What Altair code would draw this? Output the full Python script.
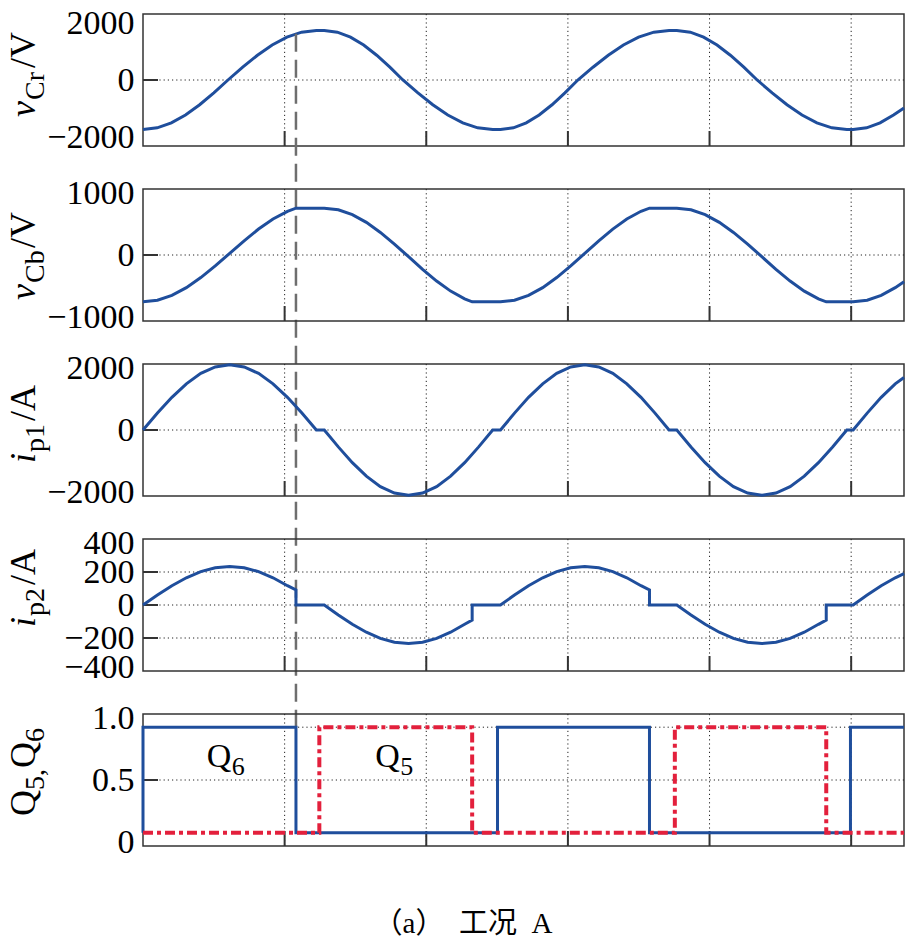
import altair as alt
import pandas as pd

# ---------------- data ----------------
# time axis expressed in grid units (one unit = spacing of the vertical gridlines)
T_MAX = 5.373
X_GRID = [1, 2, 3, 4, 5]

# v_Cr / V
VCR_T = [0, 0.1, 0.2, 0.3, 0.4, 0.5, 0.6, 0.704, 0.808, 0.912, 1.016, 1.120, 1.224,
         1.28, 1.372, 1.465, 1.558, 1.650, 1.743, 1.835, 1.941, 2.046, 2.152, 2.258, 2.363, 2.469,
         2.524, 2.615, 2.706, 2.797, 2.888, 2.979, 3.070, 3.177, 3.285, 3.392, 3.499, 3.607, 3.714,
         3.769, 3.864, 3.958, 4.053, 4.147, 4.242, 4.336, 4.442, 4.547, 4.653, 4.758, 4.864, 4.969,
         5.014, 5.109, 5.204, 5.299, 5.373]
VCR_V = [-1500, -1449, -1299, -1061, -750, -388, 0, 388, 750, 1061, 1299, 1449, 1500,
         1500, 1449, 1299, 1061, 750, 388, 0, -388, -750, -1061, -1299, -1449, -1500,
         -1500, -1449, -1299, -1061, -750, -388, 0, 388, 750, 1061, 1299, 1449, 1500,
         1500, 1449, 1299, 1061, 750, 388, 0, -388, -750, -1061, -1299, -1449, -1500,
         -1500, -1449, -1299, -1061, -850]

# v_Cb / V
VCB_T = [0, 0.102, 0.204, 0.306, 0.408, 0.510, 0.612, 0.714, 0.816, 0.918, 1.020, 1.08,
         1.28, 1.379, 1.478, 1.577, 1.676, 1.775, 1.875, 1.974, 2.073, 2.172, 2.271, 2.324,
         2.524, 2.623, 2.722, 2.822, 2.921, 3.020, 3.119, 3.218, 3.317, 3.416, 3.516, 3.576,
         3.769, 3.869, 3.969, 4.069, 4.169, 4.269, 4.369, 4.469, 4.569, 4.669, 4.769, 4.824,
         5.014, 5.113, 5.212, 5.311, 5.373]
VCB_V = [-710, -685, -611, -495, -342, -165, 25, 215, 393, 545, 662, 710,
         710, 685, 611, 494, 342, 164, -26, -217, -395, -547, -664, -710,
         -710, -685, -611, -495, -342, -165, 25, 215, 393, 545, 662, 710,
         710, 685, 611, 494, 342, 164, -26, -217, -395, -547, -664, -710,
         -710, -685, -611, -495, -404]

# i_p1 / A
IP1_T = [0, 0.102, 0.204, 0.306, 0.408, 0.510, 0.612, 0.714, 0.816, 0.918, 1.020, 1.122, 1.224,
         1.28, 1.379, 1.478, 1.577, 1.676, 1.775, 1.875, 1.974, 2.073, 2.172, 2.271, 2.370, 2.469,
         2.524, 2.623, 2.722, 2.822, 2.921, 3.020, 3.119, 3.218, 3.317, 3.416, 3.516, 3.615, 3.714,
         3.769, 3.869, 3.969, 4.069, 4.169, 4.269, 4.369, 4.469, 4.569, 4.669, 4.769, 4.869, 4.969,
         5.014, 5.113, 5.212, 5.311, 5.373]
IP1_V = [0, 512, 990, 1400, 1715, 1912, 1980, 1912, 1715, 1400, 990, 512, 0,
         0, -512, -990, -1400, -1715, -1912, -1980, -1912, -1715, -1400, -990, -512, 0,
         0, 512, 990, 1400, 1715, 1912, 1980, 1912, 1715, 1400, 990, 512, 0,
         0, -512, -990, -1400, -1715, -1912, -1980, -1912, -1715, -1400, -990, -512, 0,
         0, 512, 990, 1400, 1590]

# i_p2 / A
IP2_T = [0, 0.102, 0.204, 0.306, 0.408, 0.510, 0.612, 0.714, 0.816, 0.918, 1.020, 1.08, 1.08,
         1.28, 1.379, 1.478, 1.577, 1.676, 1.775, 1.875, 1.974, 2.073, 2.172, 2.271, 2.324, 2.324,
         2.524, 2.623, 2.722, 2.822, 2.921, 3.020, 3.119, 3.218, 3.317, 3.416, 3.516, 3.576, 3.576,
         3.769, 3.869, 3.969, 4.069, 4.169, 4.269, 4.369, 4.469, 4.569, 4.669, 4.769, 4.824, 4.824,
         5.014, 5.113, 5.212, 5.311, 5.373]
IP2_V = [0, 60, 117, 165, 202, 226, 234, 226, 202, 165, 117, 92, 0,
         0, -60, -117, -165, -202, -226, -234, -226, -202, -165, -117, -92, 0,
         0, 60, 117, 165, 202, 226, 234, 226, 202, 165, 117, 92, 0,
         0, -60, -117, -165, -202, -226, -234, -226, -202, -165, -117, -92, 0,
         0, 60, 117, 165, 190]

# gate signals Q6 (solid blue) and Q5 (red dash-dot)
Q6_T = [0, 0, 1.08, 1.08, 2.503, 2.503, 3.576, 3.576, 4.995, 4.995, 5.373]
Q6_V = [0.1, 0.9, 0.9, 0.1, 0.1, 0.9, 0.9, 0.1, 0.1, 0.9, 0.9]
Q5_T = [0, 1.245, 1.245, 2.324, 2.324, 3.755, 3.755, 4.824, 4.824, 5.373]
Q5_V = [0.1, 0.1, 0.9, 0.9, 0.1, 0.1, 0.9, 0.9, 0.1, 0.1]

# dashed marker line (switching instant), starts on the v_Cr curve
VLINE_T = 1.08
VLINE_V = 1400

# in-plot labels of panel 5
QLAB_MAIN = ["Q", "Q"]
QLAB_SUB = ["6", "5"]
QLAB_T = [0.45, 1.64]
QLAB_V = [0.6, 0.6]

CAPTION = "（a）\u2002工况\u2002A"

# ---------------- style / layout ----------------
W, H, GAP = 761, 132, 43
BLUE = "#1f4e9c"
RED = "#e3203c"
SERIF = "Liberation Serif"
TITLE_X = -108
TICK_LEN = 15
MAIN_FS, SUB_FS, SUB_DY = 36, 28, 9

XSCALE = alt.Scale(domain=[0, T_MAX], nice=False, zero=False)


def sdf(t, v):
    return pd.DataFrame({"t": t, "v": v, "i": list(range(len(t)))})


ONE = pd.DataFrame({"a": [0]})


def xenc():
    return alt.X("t:Q", scale=XSCALE, axis=None)


def make_axis(vals, flushoff, fmt=None, expr=None):
    kw = dict(values=vals, title=None, labelFont=SERIF, labelFontSize=34, labelColor="black",
              ticks=False, tickSize=0, domain=False, grid=False, labelPadding=9,
              labelFlush=True, labelFlushOffset=flushoff, labelOverlap=False, labelBound=False)
    if expr is not None:
        kw["labelExpr"] = expr
    else:
        kw["format"] = fmt
    return alt.Axis(**kw)


def panel(series, sc, axis, ygrid, yticks, title_pieces, title_start, extra=None):
    def yenc():
        return alt.Y("v:Q", scale=sc, axis=axis)

    layers = []
    layers.append(alt.Chart(pd.DataFrame({"t": X_GRID})).mark_rule(
        color="#222", strokeWidth=1, strokeDash=[1.2, 3]).encode(x=xenc()))
    layers.append(alt.Chart(pd.DataFrame({"v": ygrid})).mark_rule(
        color="#222", strokeWidth=1, strokeDash=[1.2, 3]).encode(y=yenc()))
    layers.append(alt.Chart(pd.DataFrame({"v": yticks})).mark_rule(
        color="#333", strokeWidth=2).encode(y=yenc(), x=alt.value(0), x2=alt.value(TICK_LEN)))
    layers.append(alt.Chart(pd.DataFrame({"t": X_GRID})).mark_rule(
        color="#333", strokeWidth=2).encode(x=xenc(), y=alt.value(H), y2=alt.value(H - TICK_LEN)))
    for (t, v, props) in series:
        layers.append(alt.Chart(sdf(t, v)).mark_line(**props).encode(
            x=xenc(), y=yenc(), order=alt.Order("i:Q")))
    for (txt, size, style, dx, dy) in title_pieces:
        layers.append(alt.Chart(ONE).mark_text(
            text=txt, angle=270, align="left", baseline="alphabetic", font=SERIF,
            fontSize=size, fontStyle=style, dx=dx, dy=dy, color="black").encode(
            x=alt.value(TITLE_X), y=alt.value(title_start)))
    if extra:
        layers.extend(extra)
    return alt.layer(*layers).properties(width=W, height=H)


blue_line = dict(color=BLUE, strokeWidth=3, interpolate="linear")

SC1 = alt.Scale(domain=[-2000, 2000], nice=False, zero=False)
SC2 = alt.Scale(domain=[-1000, 1000], nice=False, zero=False)
SC3 = alt.Scale(domain=[-2000, 2000], nice=False, zero=False)
SC4 = alt.Scale(domain=[-400, 400], nice=False, zero=False)
SC5 = alt.Scale(domain=[0, 1], nice=False, zero=False)

AX1 = make_axis([-2000, 0, 2000], 8, fmt="d")
AX2 = make_axis([-1000, 0, 1000], 13, fmt="d")
AX3 = make_axis([-2000, 0, 2000], 13, fmt="d")
AX4 = make_axis([-400, -200, 0, 200, 400], 13, fmt="d")
AX5 = make_axis([0, 0.5, 1], 13, expr="datum.value == 0 ? '0' : format(datum.value, '.1f')")

# dashed switching-instant line, drawn from panel 1 down to the 0.9 level of panel 5
vline = alt.Chart(ONE).mark_rule(color="#6e6e6e", strokeWidth=2.5, strokeDash=[18, 8]).encode(
    x=alt.X(datum=VLINE_T, scale=XSCALE, axis=None),
    y=alt.Y(datum=VLINE_V, scale=SC1, axis=AX1),
    y2=alt.value(4 * (H + GAP) + 0.1 * H))

p1 = panel([(VCR_T, VCR_V, blue_line)], SC1, AX1, [0], [0],
           [("v", MAIN_FS, "italic", 0, 0), ("Cr", SUB_FS, "normal", 17, SUB_DY),
            ("/V", MAIN_FS, "normal", 49, 0)],
           103, extra=[vline])
p2 = panel([(VCB_T, VCB_V, blue_line)], SC2, AX2, [0], [0],
           [("v", MAIN_FS, "italic", 0, 0), ("Cb", SUB_FS, "normal", 17, SUB_DY),
            ("/V", MAIN_FS, "normal", 52, 0)],
           111)
p3 = panel([(IP1_T, IP1_V, blue_line)], SC3, AX3, [0], [0],
           [("i", MAIN_FS, "italic", 0, 0), ("p1", SUB_FS, "normal", 11, SUB_DY),
            ("/A", MAIN_FS, "normal", 42, 0)],
           99)
p4 = panel([(IP2_T, IP2_V, blue_line)], SC4, AX4, [-200, 0, 200], [-200, 0, 200],
           [("i", MAIN_FS, "italic", 0, 0), ("p2", SUB_FS, "normal", 11, SUB_DY),
            ("/A", MAIN_FS, "normal", 42, 0)],
           88)

qlabels = []
for m, s, t, v in zip(QLAB_MAIN, QLAB_SUB, QLAB_T, QLAB_V):
    qlabels.append(alt.Chart(ONE).mark_text(text=m, align="left", baseline="alphabetic",
                                            font=SERIF, fontSize=34, color="black").encode(
        x=alt.X(datum=t, scale=XSCALE, axis=None), y=alt.Y(datum=v, scale=SC5, axis=AX5)))
    qlabels.append(alt.Chart(ONE).mark_text(text=s, align="left", baseline="alphabetic",
                                            font=SERIF, fontSize=26, color="black", dx=25, dy=8).encode(
        x=alt.X(datum=t, scale=XSCALE, axis=None), y=alt.Y(datum=v, scale=SC5, axis=AX5)))

p5 = panel([(Q6_T, Q6_V, dict(color=BLUE, strokeWidth=3, interpolate="linear")),
            (Q5_T, Q5_V, dict(color=RED, strokeWidth=4, interpolate="linear",
                              strokeDash=[10, 4, 4, 4]))],
           SC5, AX5, [0.5, 0.9], [0.5],
           [("Q", MAIN_FS, "normal", 0, 0), ("5,", SUB_FS, "normal", 26, SUB_DY),
            ("Q", MAIN_FS, "normal", 48, 0), ("6", SUB_FS, "normal", 74, SUB_DY)],
           102, extra=qlabels)

chart = alt.vconcat(p1, p2, p3, p4, p5, spacing=GAP, bounds="flush").properties(
    title=alt.TitleParams(CAPTION, orient="bottom", anchor="middle", frame="bounds",
                          font="'Liberation Serif', 'Noto Sans CJK SC', serif", fontSize=29,
                          fontWeight="normal", color="black", offset=50, dx=4),
    padding={"left": -3, "top": -3, "right": 0, "bottom": -2},
).configure_view(stroke="#333", strokeWidth=1.5)

chart.save("out.html", embed_options={"renderer": "svg", "actions": False})
